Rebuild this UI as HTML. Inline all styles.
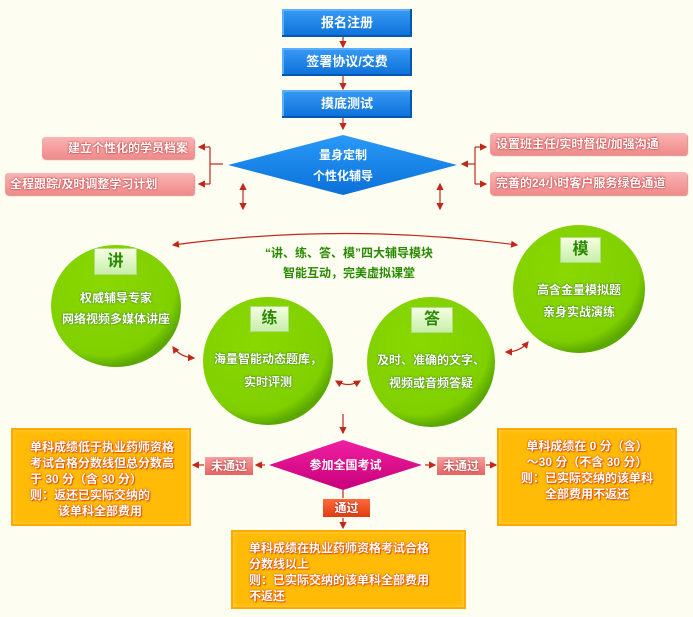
<!DOCTYPE html>
<html><head><meta charset="utf-8"><style>
html,body{margin:0;padding:0;}
body{width:693px;height:617px;background:#fdfdf2;position:relative;overflow:hidden;font-family:"Liberation Sans","Noto Sans CJK SC",sans-serif;font-weight:bold;}
.a{position:absolute;}
.blue{background:linear-gradient(#3a9af5,#0a6fd8);color:#fff;font-size:13px;text-align:center;box-shadow:inset -2px -2px 0 #0558b0, inset 2px 2px 0 #5ab0ff;}
.pink{background:linear-gradient(#f9b4b4,#f08a8a);color:#fff;font-size:12px;text-shadow:0 0 2px #c03030,0 0 1px #c03030;border-radius:3px;box-shadow:1px 1px 1px #d88;}
.or{background:#ffbb05;border:2px solid #ffa800;box-shadow:inset 0 0 4px #ffd25a;color:#fff;font-size:12px;line-height:16px;text-shadow:0 0 2px #e05000,0 0 1px #e05000,1px 1px 1px #e05000;box-sizing:border-box;}
.t{color:#fff;font-size:12px;text-align:center;text-shadow:0 0 2px #3a8000,0 0 1px #3a8000;}
.lab{background:linear-gradient(#f4ffe0,#c8eeaa);border:1px solid #b0dd80;color:#2a8a00;font-size:16px;text-align:center;box-sizing:border-box;}
.g{color:#2a8a00;font-size:12px;text-align:center;}
.ng{background:linear-gradient(#f7a0a0,#e46464);color:#fff;font-size:12px;text-align:center;line-height:18px;text-shadow:0 0 2px #a02020;}
</style></head><body>
<svg class="a" style="left:0;top:0" width="693" height="617">
<defs>
<marker id="ar" markerWidth="6" markerHeight="6" refX="5" refY="3" orient="auto"><path d="M0,0L6,3L0,6z" fill="#c0281a"/></marker>
<marker id="as" markerWidth="6" markerHeight="6" refX="1" refY="3" orient="auto"><path d="M6,0L0,3L6,6z" fill="#c0281a"/></marker>
<radialGradient id="gr" cx="40%" cy="35%" r="65%"><stop offset="0" stop-color="#8ad800"/><stop offset="0.85" stop-color="#80d000"/><stop offset="1" stop-color="#5aa800"/></radialGradient>
<linearGradient id="bd" x1="0" y1="0" x2="0" y2="1"><stop offset="0" stop-color="#2a9af8"/><stop offset="1" stop-color="#0a70d8"/></linearGradient>
<linearGradient id="md" x1="0" y1="0" x2="0" y2="1"><stop offset="0" stop-color="#f020a0"/><stop offset="1" stop-color="#c8007a"/></linearGradient>
</defs>
<g stroke="#c0281a" stroke-width="1.2" fill="none">
<line x1="343" y1="37" x2="343" y2="47" marker-end="url(#ar)"/>
<line x1="343" y1="76" x2="343" y2="89" marker-end="url(#ar)"/>
<line x1="343" y1="118" x2="343" y2="129" marker-end="url(#ar)"/>
<polyline points="223,164 210,164"/>
<polyline points="210,147 210,184"/>
<line x1="210" y1="147" x2="199" y2="147" marker-end="url(#ar)"/>
<line x1="210" y1="184" x2="199" y2="184" marker-end="url(#ar)"/>
<line x1="475" y1="164" x2="462" y2="164" marker-end="url(#ar)"/>
<line x1="475" y1="147" x2="475" y2="184"/>
<line x1="475" y1="147" x2="486" y2="147" marker-end="url(#ar)"/>
<line x1="475" y1="184" x2="486" y2="184" marker-end="url(#ar)"/>
<line x1="243" y1="184" x2="243" y2="209" marker-start="url(#as)" marker-end="url(#ar)"/>
<line x1="440" y1="184" x2="440" y2="209" marker-start="url(#as)" marker-end="url(#ar)"/>
<path d="M173,245 Q345,222 517,245" marker-start="url(#as)" marker-end="url(#ar)"/>
<path d="M173,347 Q180,357 194,358" marker-start="url(#as)" marker-end="url(#ar)"/>
<path d="M336,381 Q348,388 360,381" marker-start="url(#as)" marker-end="url(#ar)"/>
<path d="M506,352 Q520,352 528,342" marker-start="url(#as)" marker-end="url(#ar)"/>
<line x1="343" y1="414" x2="343" y2="433" marker-end="url(#ar)"/>
<line x1="265" y1="465" x2="256" y2="465" marker-end="url(#ar)"/>
<line x1="204" y1="465" x2="193" y2="465" marker-end="url(#ar)"/>
<line x1="425" y1="465" x2="435" y2="465" marker-end="url(#ar)"/>
<line x1="486" y1="465" x2="496" y2="465" marker-end="url(#ar)"/>
<line x1="343" y1="490" x2="343" y2="498"/>
<line x1="343" y1="518" x2="343" y2="528" marker-end="url(#ar)"/>
</g>
<polygon points="343,135 457,165 343,195 228,165" fill="url(#bd)"/>
<ellipse cx="116" cy="306" rx="65" ry="61" fill="url(#gr)"/>
<ellipse cx="579" cy="289" rx="66" ry="64" fill="url(#gr)"/>
<ellipse cx="268" cy="361" rx="65" ry="64" fill="url(#gr)"/>
<ellipse cx="431" cy="362" rx="64" ry="65" fill="url(#gr)"/>
<polygon points="343,440 422,465 343,490 269,465" fill="url(#md)"/>
</svg>
<div class="a blue" style="left:282px;top:9px;width:130px;height:28px;line-height:28px">报名注册</div>
<div class="a blue" style="left:282px;top:48px;width:130px;height:28px;line-height:28px">签署协议/交费</div>
<div class="a blue" style="left:282px;top:90px;width:130px;height:28px;line-height:28px">摸底测试</div>
<div class="a" style="left:228px;top:145px;width:230px;text-align:center;color:#fff;font-size:12px;line-height:21px">量身定制<br>个性化辅导</div>
<div class="a pink" style="left:42px;top:137px;width:152px;height:22px;line-height:22px;text-align:right;padding-right:6px;box-sizing:border-box">建立个性化的学员档案</div>
<div class="a pink" style="left:5px;top:173px;width:189px;height:22px;line-height:22px;padding-left:5px;box-sizing:border-box">全程跟踪/及时调整学习计划</div>
<div class="a pink" style="left:490px;top:133px;width:197px;height:22px;line-height:22px;padding-left:6px;box-sizing:border-box">设置班主任/实时督促/加强沟通</div>
<div class="a pink" style="left:490px;top:172px;width:197px;height:23px;line-height:23px;padding-left:6px;box-sizing:border-box">完善的24小时客户服务绿色通道</div>
<div class="a g" style="left:249px;top:243px;width:200px;line-height:20px">“讲、练、答、模”四大辅导模块<br>智能互动，完美虚拟课堂</div>
<div class="a lab" style="left:94px;top:248px;width:43px;height:27px;line-height:25px">讲</div>
<div class="a lab" style="left:250px;top:306px;width:39px;height:26px;line-height:24px">练</div>
<div class="a lab" style="left:411px;top:307px;width:42px;height:26px;line-height:24px">答</div>
<div class="a lab" style="left:560px;top:237px;width:41px;height:26px;line-height:24px">模</div>
<div class="a t" style="left:51px;top:288px;width:130px;line-height:21px">权威辅导专家<br>网络视频多媒体讲座</div>
<div class="a t" style="left:203px;top:348px;width:130px;line-height:23px">海量智能动态题库，<br>实时评测</div>
<div class="a t" style="left:367px;top:349px;width:128px;line-height:23px">及时、准确的文字、<br>视频或音频答疑</div>
<div class="a t" style="left:514px;top:279px;width:130px;line-height:22px">高含金量模拟题<br>亲身实战演练</div>
<div class="a" style="left:269px;top:456px;width:153px;text-align:center;color:#fff;font-size:12px;line-height:18px">参加全国考试</div>
<div class="a ng" style="left:205px;top:457px;width:48px;height:18px">未通过</div>
<div class="a ng" style="left:437px;top:457px;width:48px;height:18px">未通过</div>
<div class="a ng" style="left:323px;top:499px;width:47px;height:18px;background:linear-gradient(#ff6a3a,#e03c10)">通过</div>
<div class="a or" style="left:11px;top:428px;width:180px;height:98px;padding:9px 0 0 17px">单科成绩低于执业药师资格<br>考试合格分数线但总分数高<br>于 30 分（含 30 分）<br>则：返还已实际交纳的<br><span style="padding-left:28px">该单科全部费用</span></div>
<div class="a or" style="left:497px;top:428px;width:180px;height:98px;padding:8px 0 0 0;text-align:center">单科成绩在 0 分（含）<br>～30 分（不含 30 分）<br>则：已实际交纳的该单科<br>全部费用不返还</div>
<div class="a or" style="left:231px;top:530px;width:235px;height:79px;padding:8px 0 0 16px">单科成绩在执业药师资格考试合格<br>分数线以上<br>则：已实际交纳的该单科全部费用<br>不返还</div>
</body></html>
